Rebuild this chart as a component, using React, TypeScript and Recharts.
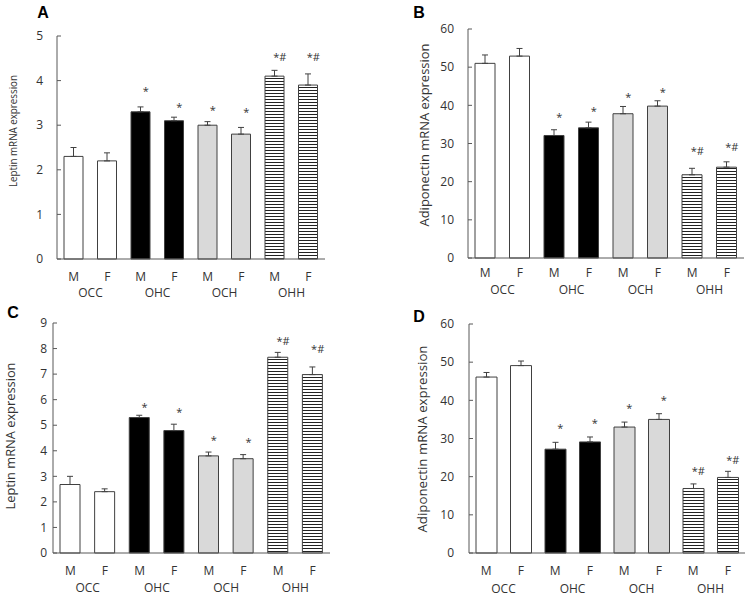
import React from 'react'
import { ComposedChart, Bar, Cell, XAxis, YAxis, ErrorBar, Line } from 'recharts'

const sexes = ['M', 'F', 'M', 'F', 'M', 'F', 'M', 'F']
const groups = ['OCC', 'OHC', 'OCH', 'OHH']
const marks = ['', '', '*', '*', '*', '*', '*#', '*#']

// A - leptin
const leptinA = [2.3, 2.2, 3.3, 3.1, 3.0, 2.8, 4.1, 3.9]
const leptinAErr = [0.2, 0.18, 0.11, 0.08, 0.08, 0.15, 0.13, 0.25]
const leptinAStar = [null, null, 3.79, 3.45, 3.38, 3.34, 4.57, 4.57]
const ticksA = [0, 1, 2, 3, 4, 5]

// B - adiponectin
const adipoB = [51.0, 52.9, 32.1, 34.1, 37.8, 39.8, 21.8, 23.8]
const adipoBErr = [2.2, 2.0, 1.5, 1.5, 1.9, 1.4, 1.7, 1.4]
const adipoBStar = [null, null, 37.3, 38.8, 42.7, 43.9, 28.3, 29.5]
const ticksB = [0, 10, 20, 30, 40, 50, 60]

// C - leptin
const leptinC = [2.68, 2.4, 5.3, 4.79, 3.8, 3.69, 7.66, 6.98]
const leptinCErr = [0.32, 0.11, 0.09, 0.25, 0.15, 0.16, 0.19, 0.3]
const leptinCStar = [null, null, 5.76, 5.56, 4.48, 4.42, 8.34, 8.05]
const ticksC = [0, 1, 2, 3, 4, 5, 6, 7, 8, 9]

// D - adiponectin
const adipoD = [46.1, 49.1, 27.2, 29.1, 33.0, 35.0, 16.9, 19.8]
const adipoDErr = [1.2, 1.2, 1.8, 1.3, 1.3, 1.5, 1.2, 1.6]
const adipoDStar = [null, null, 33.2, 34.5, 38.4, 40.6, 21.8, 24.7]
const ticksD = [0, 10, 20, 30, 40, 50, 60]

const FONT = '"Open Sans", sans-serif'
const TEXT = '#333333'
const AXIS = '#595959'
const EDGE = '#404040'
const groupFills = ['#ffffff', '#000000', '#d9d9d9', 'url(#stripes)']

const buildRows = (values: number[], errs: number[], stars: (number | null)[]) =>
  values.map((v, i) => ({
    cat: groups[Math.floor(i / 2)] + '-' + sexes[i],
    value: v,
    err: [0, errs[i]],
    star: stars[i],
  }))

const YTick = (props: any) => {
  const { x, y, payload, gap } = props
  return (
    <g>
      <line x1={x} x2={x + 4} y1={y} y2={y} stroke={AXIS} />
      <text x={x - gap} y={y} dy="0.35em" textAnchor="end" fontSize={12} fill={TEXT} fontFamily={FONT}>
        {payload.value}
      </text>
    </g>
  )
}

const XTick = (props: any) => {
  const { x, y, index, band, sexDy, groupDy } = props
  return (
    <g>
      <text x={x} y={y + sexDy} dy="0.35em" textAnchor="middle" fontSize={12} fill={TEXT} fontFamily={FONT}>
        {sexes[index]}
      </text>
      {index % 2 === 1 && (
        <text x={x - band / 2} y={y + groupDy} dy="0.35em" textAnchor="middle" fontSize={12} fill={TEXT} fontFamily={FONT}>
          {groups[(index - 1) / 2]}
        </text>
      )}
    </g>
  )
}

const renderStar = (props: any) => {
  const { cx, cy, index } = props
  if (!Number.isFinite(cx) || !Number.isFinite(cy) || !marks[index]) return <g key={`s${index}`} />
  return (
    <text key={`s${index}`} x={cx + 5} y={cy} dy="0.5em" textAnchor="middle" fontSize={11} fill={TEXT} fontFamily={FONT}>
      {marks[index]}
    </text>
  )
}

interface PanelProps {
  left: number
  top: number
  plot: [number, number, number, number] // x0, x1, y0, y1
  values: number[]
  errs: number[]
  stars: (number | null)[]
  ticks: number[]
  letter: string
  letterPos: [number, number]
  yLabel: string
  yLabelPos: [number, number]
  yLabelSize: number
  yLabelLen: number
  barSize: number
  tickGap: number
  sexDy: number
  groupDy: number
}

const W = 377
const H = 300

const Panel: React.FC<PanelProps> = (p) => {
  const data = buildRows(p.values, p.errs, p.stars)
  const [x0, x1, y0, y1] = p.plot
  const band = (x1 - x0) / 8
  return (
    <div style={{ position: 'absolute', left: p.left, top: p.top, width: W, height: H }}>
      <ComposedChart
        width={W}
        height={H}
        data={data}
        margin={{ top: y0, right: W - x1, bottom: 0, left: 0 }}
        barSize={p.barSize}
      >
        <XAxis
          dataKey="cat"
          height={H - y1}
          interval={0}
          tickLine={false}
          tickSize={0}
          tickMargin={0}
          axisLine={{ stroke: AXIS }}
          tick={(t: any) => <XTick {...t} band={band} sexDy={p.sexDy} groupDy={p.groupDy} />}
        />
        <YAxis
          width={x0}
          domain={[p.ticks[0], p.ticks[p.ticks.length - 1]]}
          ticks={p.ticks}
          interval={0}
          tickLine={false}
          tickSize={0}
          tickMargin={0}
          axisLine={{ stroke: AXIS }}
          tick={(t: any) => <YTick {...t} gap={p.tickGap} />}
        />
        <Bar dataKey="value" stroke={EDGE} strokeWidth={1} isAnimationActive={false}>
          {data.map((_, i) => (
            <Cell key={i} fill={groupFills[Math.floor(i / 2)]} />
          ))}
          <ErrorBar dataKey="err" width={3} stroke={EDGE} strokeWidth={1} direction="y" />
        </Bar>
        <Line
          dataKey="star"
          stroke="none"
          dot={renderStar}
          activeDot={false}
          isAnimationActive={false}
          legendType="none"
        />
      </ComposedChart>
      <svg width={W} height={H} style={{ position: 'absolute', left: 0, top: 0, pointerEvents: 'none' }}>
        <text
          x={p.letterPos[0]}
          y={p.letterPos[1]}
          dy="0.35em"
          textAnchor="middle"
          fontSize={16}
          fontWeight="bold"
          fill="#000"
          fontFamily='"Liberation Sans", Arial, sans-serif'
        >
          {p.letter}
        </text>
        <text
          x={p.yLabelPos[0]}
          y={p.yLabelPos[1]}
          dy="0.35em"
          textAnchor="middle"
          fontSize={p.yLabelSize}
          fill={TEXT}
          fontFamily={FONT}
          textLength={p.yLabelLen}
          lengthAdjust="spacingAndGlyphs"
          transform={`rotate(-90 ${p.yLabelPos[0]} ${p.yLabelPos[1]})`}
        >
          {p.yLabel}
        </text>
      </svg>
    </div>
  )
}

export default function App() {
  return (
    <div style={{ position: 'absolute', left: 0, top: 0, width: 754, height: 596, background: '#fff', overflow: 'hidden' }}>
      <svg width={0} height={0} style={{ position: 'absolute' }}>
        <defs>
          <pattern id="stripes" patternUnits="userSpaceOnUse" width={4} height={3}>
            <rect x={0} y={0} width={4} height={3} fill="#ffffff" />
            <rect x={0} y={0} width={4} height={1} fill="#222222" />
          </pattern>
        </defs>
      </svg>
      <Panel
        left={0} top={0} plot={[57, 325, 36, 259]}
        values={leptinA} errs={leptinAErr} stars={leptinAStar} ticks={ticksA}
        letter="A" letterPos={[43, 12]}
        yLabel="Leptin mRNA expression" yLabelPos={[13, 131]} yLabelSize={10} yLabelLen={112}
        barSize={19} tickGap={14} sexDy={18} groupDy={34}
      />
      <Panel
        left={377} top={0} plot={[91, 367, 29, 258]}
        values={adipoB} errs={adipoBErr} stars={adipoBStar} ticks={ticksB}
        letter="B" letterPos={[42, 12]}
        yLabel="Adiponectin mRNA expression" yLabelPos={[47, 135]} yLabelSize={13} yLabelLen={183}
        barSize={20} tickGap={14} sexDy={15} groupDy={32}
      />
      <Panel
        left={0} top={296} plot={[53, 330, 27, 257]}
        values={leptinC} errs={leptinCErr} stars={leptinCStar} ticks={ticksC}
        letter="C" letterPos={[13, 16]}
        yLabel="Leptin mRNA expression" yLabelPos={[10, 140]} yLabelSize={13} yLabelLen={147}
        barSize={20} tickGap={6} sexDy={18} groupDy={35}
      />
      <Panel
        left={377} top={296} plot={[92, 368, 28, 257]}
        values={adipoD} errs={adipoDErr} stars={adipoDStar} ticks={ticksD}
        letter="D" letterPos={[42, 20]}
        yLabel="Adiponectin mRNA  expression" yLabelPos={[45, 143]} yLabelSize={13} yLabelLen={187}
        barSize={21} tickGap={15} sexDy={18} groupDy={36}
      />
    </div>
  )
}
